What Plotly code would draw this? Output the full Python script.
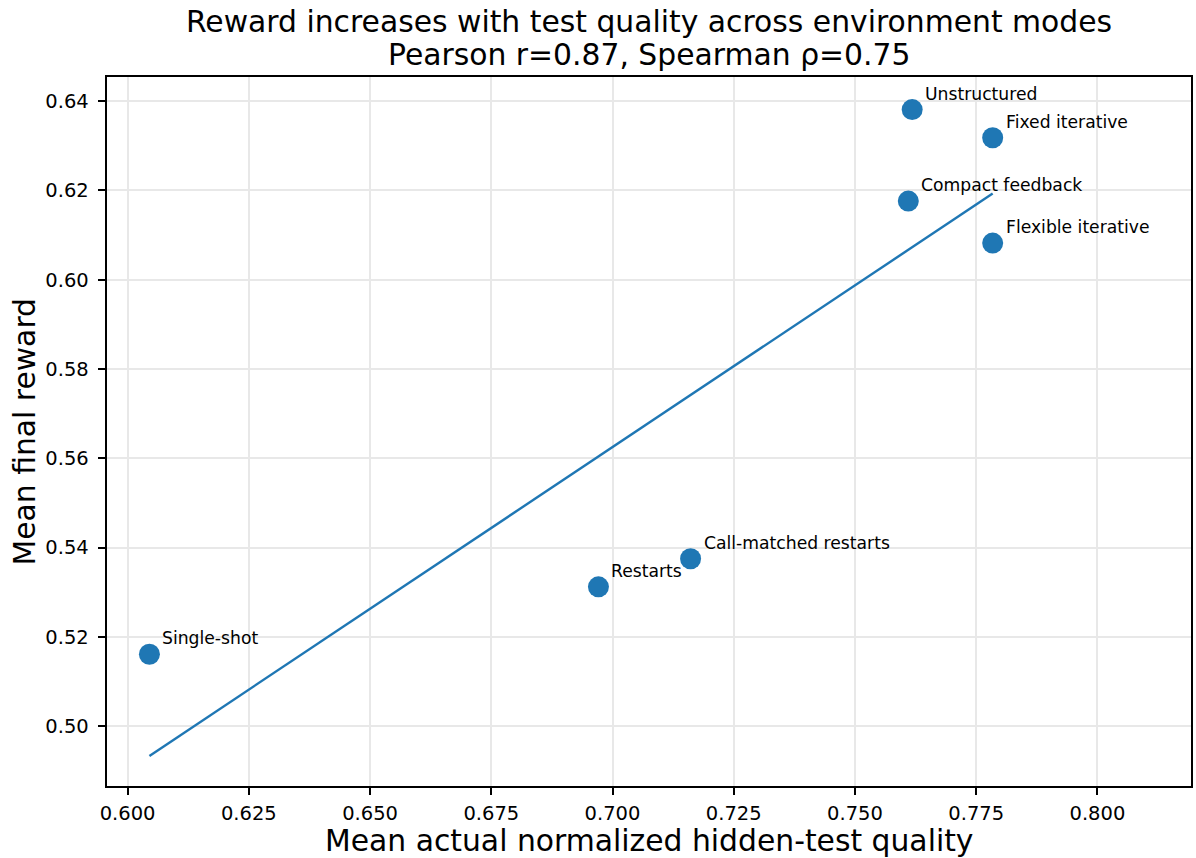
import numpy as np
import plotly.graph_objects as go

# Data
modes = ["Unstructured", "Fixed iterative", "Compact feedback", "Flexible iterative",
         "Call-matched restarts", "Restarts", "Single-shot"]
test_quality = [0.7618, 0.7784, 0.7610, 0.7784, 0.7161, 0.6971, 0.6045]
final_reward = [0.6381, 0.6318, 0.6176, 0.6082, 0.5375, 0.5312, 0.5161]

title_line1 = "Reward increases with test quality across environment modes"
title_line2 = "Pearson r=0.87, Spearman ρ=0.75"
x_title = "Mean actual normalized hidden-test quality"
y_title = "Mean final reward"

BLUE = "#1f77b4"
FONT = "DejaVu Sans"

W, H = 1196, 858
L, R, T, B = 107, 5, 77, 72
plot_w = W - L - R
plot_h = H - T - B

xa = np.array(test_quality)
ya = np.array(final_reward)
slope, intercept = np.polyfit(xa, ya, 1)
fit_x = np.array([xa.min(), xa.max()])
fit_y = slope * fit_x + intercept

fig = go.Figure()
fig.add_trace(go.Scatter(x=fit_x, y=fit_y, mode="lines",
                         line=dict(color=BLUE, width=2.4), showlegend=False, hoverinfo="skip"))
fig.add_trace(go.Scatter(x=test_quality, y=final_reward, mode="markers",
                         marker=dict(size=21, color=BLUE, line=dict(width=0)),
                         showlegend=False, text=modes))

for name, xv, yv in zip(modes, test_quality, final_reward):
    fig.add_annotation(x=xv, y=yv, text=name, showarrow=False,
                       xanchor="left", yanchor="middle", xshift=11, yshift=16,
                       font=dict(family=FONT, size=17.2, color="black"))

def py(screen_y):
    return (H - B - screen_y) / plot_h

def px(screen_x):
    return (screen_x - L) / plot_w

fig.add_annotation(xref="paper", yref="paper", x=px(649), y=py(22), text=title_line1,
                   showarrow=False, xanchor="center", yanchor="middle",
                   font=dict(family=FONT, size=29.8, color="black"))
fig.add_annotation(xref="paper", yref="paper", x=px(649), y=py(54), text=title_line2,
                   showarrow=False, xanchor="center", yanchor="middle",
                   font=dict(family=FONT, size=29.8, color="black"))
fig.add_annotation(xref="paper", yref="paper", x=px(649), y=py(840), text=x_title,
                   showarrow=False, xanchor="center", yanchor="middle",
                   font=dict(family=FONT, size=29.8, color="black"))
fig.add_annotation(xref="paper", yref="paper", x=px(24), y=py(431.5), text=y_title,
                   showarrow=False, xanchor="center", yanchor="middle", textangle=-90,
                   font=dict(family=FONT, size=29.8, color="black"))

axis_common = dict(
    showline=True, linecolor="black", linewidth=1.7, mirror=True,
    ticks="outside", ticklen=7.5, tickwidth=1.7, tickcolor="black",
    showgrid=True, gridcolor="#e8e8e8", gridwidth=1.5, zeroline=False,
    tickfont=dict(family=FONT, size=19.5, color="black"),
    automargin=False,
)

fig.update_layout(
    width=W, height=H,
    margin=dict(l=L, r=R, t=T, b=B),
    paper_bgcolor="white", plot_bgcolor="white",
    font=dict(family=FONT, color="black"),
    xaxis=dict(range=[0.59575, 0.8193], tick0=0.6, dtick=0.025, tickformat=".3f",
               ticklabelstandoff=1, **axis_common),
    yaxis=dict(range=[0.4866, 0.6454], tick0=0.5, dtick=0.02, tickformat=".2f",
               ticklabelstandoff=5, **axis_common),
)

fig.write_html("out.html", config={"displayModeBar": False},
               post_script="document.body.style.margin='0';document.body.style.overflow='hidden';")
